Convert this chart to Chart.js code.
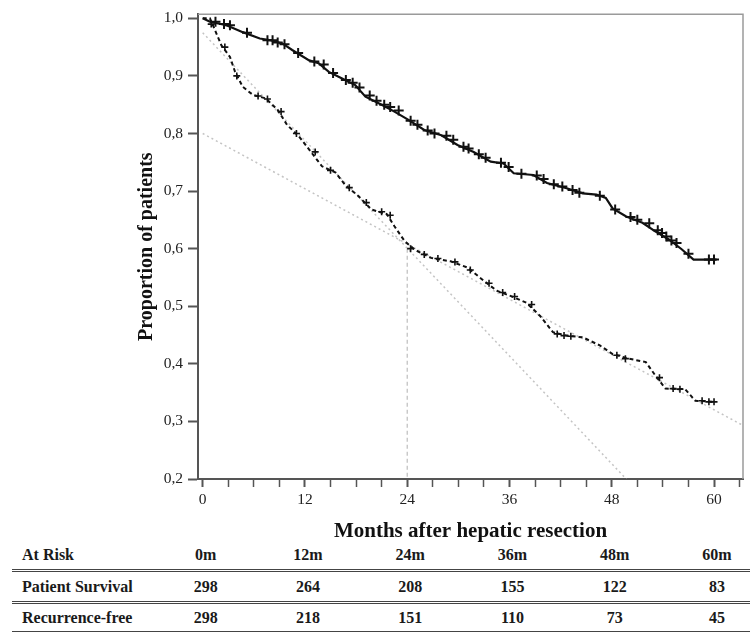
<!DOCTYPE html>
<html>
<head>
<meta charset="utf-8">
<script src="https://cdn.jsdelivr.net/npm/chart.js@4/dist/chart.umd.min.js"></script>
<style>
  body { margin: 0; background: #fff; }
  #page { position: relative; width: 750px; height: 633px; font-family: "Liberation Serif", serif; }
  #wrap { position: absolute; left: 0; top: 0; width: 750px; height: 545px; }
  .txt { position: absolute; font-weight: bold; font-size: 16px; color: #1a1a1a; line-height: 18px; white-space: nowrap; }
  .cell { transform: translateX(-50%); }
  .rule { position: absolute; left: 12px; width: 738px; }
  .double { height: 1px; border-top: 1.5px solid #444; border-bottom: 1.5px solid #444; }
  .single { height: 0; border-top: 1.5px solid #444; }
</style>
</head>
<body>
<div id="page">
  <div id="wrap"><canvas id="kmChart"></canvas></div>
  <div id="tabla"></div>
</div>
<script>
// Curvas Kaplan-Meier (meses, proporción)
const survMonths = [0, 0.85, 2.8, 4.7, 6.7, 8.0, 9.4, 10.5, 12.5, 13.6, 14.8, 16.3, 17.9, 19.1, 21.0, 22.5, 24.1, 26.0, 28.0, 29.9, 31.8, 33.8, 35.3, 36.5, 38.8, 40.4, 42.7, 44.6, 46.2, 47.3, 48.1, 49.7, 51.6, 53.1, 54.7, 56.2, 57.6, 60.3];
const survValues = [1.0, 0.994, 0.988, 0.976, 0.965, 0.962, 0.956, 0.945, 0.927, 0.922, 0.907, 0.896, 0.884, 0.864, 0.850, 0.838, 0.824, 0.806, 0.797, 0.780, 0.768, 0.751, 0.748, 0.731, 0.728, 0.714, 0.705, 0.696, 0.694, 0.688, 0.670, 0.656, 0.645, 0.630, 0.616, 0.599, 0.581, 0.581];

const rfsMonths = [0, 0.85, 1.6, 2.2, 3.2, 3.8, 4.7, 5.9, 7.4, 8.8, 9.9, 11.3, 12.5, 14.0, 15.6, 16.7, 18.3, 19.8, 21.6, 22.5, 23.7, 24.9, 26.8, 29.1, 31.1, 33.0, 34.5, 36.1, 38.0, 39.6, 41.1, 42.7, 44.6, 46.6, 48.1, 50.0, 52.0, 53.1, 54.3, 56.6, 57.8, 60.1];
const rfsValues = [1.0, 1.0, 0.974, 0.953, 0.933, 0.907, 0.881, 0.867, 0.861, 0.841, 0.815, 0.795, 0.772, 0.743, 0.732, 0.711, 0.691, 0.668, 0.660, 0.639, 0.613, 0.598, 0.584, 0.578, 0.567, 0.544, 0.527, 0.518, 0.506, 0.483, 0.455, 0.449, 0.446, 0.432, 0.417, 0.409, 0.403, 0.380, 0.357, 0.356, 0.336, 0.334];

// Marcas de censura
const survCensMonths = [1.5, 2.5, 3.2, 5.2, 7.6, 8.2, 8.8, 9.6, 11.2, 13.1, 14.2, 15.3, 16.8, 17.6, 18.4, 19.6, 20.4, 21.3, 22.0, 23.0, 24.4, 25.2, 26.4, 27.2, 28.6, 29.4, 30.6, 31.2, 32.4, 33.2, 35.0, 35.9, 37.4, 39.2, 40.0, 41.2, 42.2, 43.4, 44.2, 46.6, 48.4, 50.2, 51.0, 52.4, 53.4, 53.9, 54.4, 55.0, 55.6, 57.0, 59.4, 60.0];
const survCensValues = [0.994, 0.990, 0.988, 0.975, 0.962, 0.962, 0.958, 0.955, 0.940, 0.925, 0.920, 0.905, 0.893, 0.888, 0.880, 0.866, 0.857, 0.850, 0.846, 0.840, 0.822, 0.815, 0.805, 0.800, 0.796, 0.789, 0.777, 0.774, 0.764, 0.758, 0.749, 0.742, 0.730, 0.727, 0.721, 0.712, 0.708, 0.702, 0.697, 0.692, 0.668, 0.655, 0.650, 0.644, 0.632, 0.627, 0.621, 0.614, 0.610, 0.591, 0.581, 0.581];

const rfsCensMonths = [1.0, 2.6, 4.0, 6.5, 7.6, 9.2, 11.0, 13.2, 15.0, 17.2, 19.2, 21.0, 22.0, 24.4, 26.0, 27.6, 29.6, 31.4, 33.6, 35.2, 36.6, 38.6, 41.6, 42.4, 43.2, 48.6, 49.6, 53.6, 55.2, 56.0, 58.6, 59.4, 60.0];
const rfsCensValues = [0.990, 0.950, 0.900, 0.865, 0.860, 0.838, 0.800, 0.768, 0.736, 0.706, 0.680, 0.664, 0.658, 0.600, 0.590, 0.583, 0.577, 0.563, 0.540, 0.524, 0.517, 0.503, 0.452, 0.449, 0.448, 0.415, 0.409, 0.376, 0.357, 0.356, 0.336, 0.334, 0.334];

// Líneas de referencia grises
const refAMonths = [0, 63.4];
const refAValues = [0.80, 0.293];
const refBMonths = [0, 49.7];
const refBValues = [0.975, 0.2];
const refVMonths = [24, 24];
const refVValues = [0.6, 0.2];

// Ejes
const xTickMonths = [0, 3, 6, 9, 12, 15, 18, 21, 24, 27, 30, 33, 36, 39, 42, 45, 48, 51, 54, 57, 60, 63];
const xLabelMonths = [0, 12, 24, 36, 48, 60];
const yTickValues = [0.2, 0.3, 0.4, 0.5, 0.6, 0.7, 0.8, 0.9, 1.0];

// Tabla de pacientes en riesgo
const riskLabels = ['0m', '12m', '24m', '36m', '48m', '60m'];
const riskMonths = [0, 12, 24, 36, 48, 60];
const survRisk = [298, 264, 208, 155, 122, 83];
const rfsRisk = [298, 218, 151, 110, 73, 45];

function puntos(xs, ys) {
    return xs.map((x, i) => ({ x: x, y: ys[i] }));
}

// Marco gris arriba y a la derecha
const marco = {
    id: 'marco',
    beforeDatasetsDraw(chart) {
        const { ctx, chartArea: a } = chart;
        ctx.save();
        ctx.strokeStyle = '#9a9a9a';
        ctx.lineWidth = 1.5;
        ctx.beginPath();
        ctx.moveTo(a.left, a.top);
        ctx.lineTo(a.right, a.top);
        ctx.lineTo(a.right, a.bottom);
        ctx.stroke();
        ctx.restore();
    }
};

const serif = '"Liberation Serif", "Times New Roman", serif';

const chart = new Chart(document.getElementById('kmChart').getContext('2d'), {
    type: 'line',
    data: {
        datasets: [
            {
                label: 'Patient Survival',
                data: puntos(survMonths, survValues),
                borderColor: '#111',
                borderWidth: 2.2,
                pointRadius: 0,
                tension: 0
            },
            {
                label: 'Survival censored',
                data: puntos(survCensMonths, survCensValues),
                showLine: false,
                pointStyle: 'cross',
                pointRadius: 5,
                borderColor: '#111',
                pointBorderWidth: 2
            },
            {
                label: 'Recurrence-free',
                data: puntos(rfsMonths, rfsValues),
                borderColor: '#111',
                borderWidth: 2,
                borderDash: [4, 3],
                pointRadius: 0,
                tension: 0
            },
            {
                label: 'Recurrence-free censored',
                data: puntos(rfsCensMonths, rfsCensValues),
                showLine: false,
                pointStyle: 'cross',
                pointRadius: 3.5,
                borderColor: '#111',
                pointBorderWidth: 1.6
            },
            {
                label: 'refA',
                data: puntos(refAMonths, refAValues),
                borderColor: '#c4c4c4',
                borderWidth: 1.5,
                borderDash: [2, 3],
                pointRadius: 0
            },
            {
                label: 'refB',
                data: puntos(refBMonths, refBValues),
                borderColor: '#c4c4c4',
                borderWidth: 1.5,
                borderDash: [2, 3],
                pointRadius: 0
            },
            {
                label: 'refV',
                data: puntos(refVMonths, refVValues),
                borderColor: '#bdbdbd',
                borderWidth: 1.2,
                borderDash: [4, 3],
                pointRadius: 0
            }
        ]
    },
    options: {
        responsive: true,
        maintainAspectRatio: false,
        animation: false,
        layout: { padding: { left: 0, right: 5, top: 12, bottom: 0 } },
        plugins: {
            legend: { display: false },
            tooltip: { enabled: false }
        },
        scales: {
            x: {
                type: 'linear',
                min: -0.55,
                max: 63.4,
                afterBuildTicks: s => { s.ticks = xTickMonths.map(v => ({ value: v })); },
                afterFit: s => { s.height = 66; },
                grid: {
                    drawOnChartArea: false,
                    drawTicks: true,
                    tickLength: 8,
                    tickColor: '#555',
                    tickWidth: ctx => xLabelMonths.includes(ctx.tick && ctx.tick.value) ? 2 : 1.5
                },
                border: { display: true, color: '#555', width: 2 },
                ticks: {
                    autoSkip: false,
                    maxRotation: 0,
                    padding: 4,
                    color: '#222',
                    font: { family: serif, size: 15.5 },
                    callback: v => xLabelMonths.includes(v) ? String(v) : ''
                },
                title: {
                    display: true,
                    text: 'Months after hepatic resection',
                    color: '#111',
                    font: { family: serif, size: 21, weight: 'bold' },
                    padding: { top: 0, bottom: 1 }
                }
            },
            y: {
                min: 0.2,
                max: 1.007,
                afterBuildTicks: s => { s.ticks = yTickValues.map(v => ({ value: v })); },
                afterFit: s => { s.width = 198; },
                grid: {
                    drawOnChartArea: false,
                    drawTicks: true,
                    tickLength: 10,
                    tickColor: '#555',
                    tickWidth: 2
                },
                border: { display: true, color: '#555', width: 2 },
                ticks: {
                    padding: 5,
                    color: '#222',
                    font: { family: serif, size: 15.5 },
                    callback: v => v.toFixed(1).replace('.', ',')
                },
                title: {
                    display: true,
                    text: 'Proportion of patients',
                    color: '#111',
                    font: { family: serif, size: 20, weight: 'bold' },
                    padding: { top: 135, bottom: 0 }
                }
            }
        }
    },
    plugins: [marco]
});

// Tabla "At Risk" alineada con el eje x
function generarTabla() {
    const tabla = document.getElementById('tabla');
    const xs = chart.scales.x;
    const filas = [
        { nombre: 'At Risk', valores: riskLabels, y: 546 },
        { nombre: 'Patient Survival', valores: survRisk, y: 578 },
        { nombre: 'Recurrence-free', valores: rfsRisk, y: 609 }
    ];
    let html = '';
    filas.forEach(fila => {
        html += `<div class="txt" style="left:22px;top:${fila.y}px">${fila.nombre}</div>`;
        fila.valores.forEach((v, i) => {
            const px = xs.getPixelForValue(riskMonths[i]) + 3;
            html += `<div class="txt cell" style="left:${px}px;top:${fila.y}px">${v}</div>`;
        });
    });
    html += '<div class="rule double" style="top:569px"></div>';
    html += '<div class="rule double" style="top:601px"></div>';
    html += '<div class="rule single" style="top:631px"></div>';
    tabla.innerHTML = html;
}
generarTabla();
</script>
</body>
</html>
